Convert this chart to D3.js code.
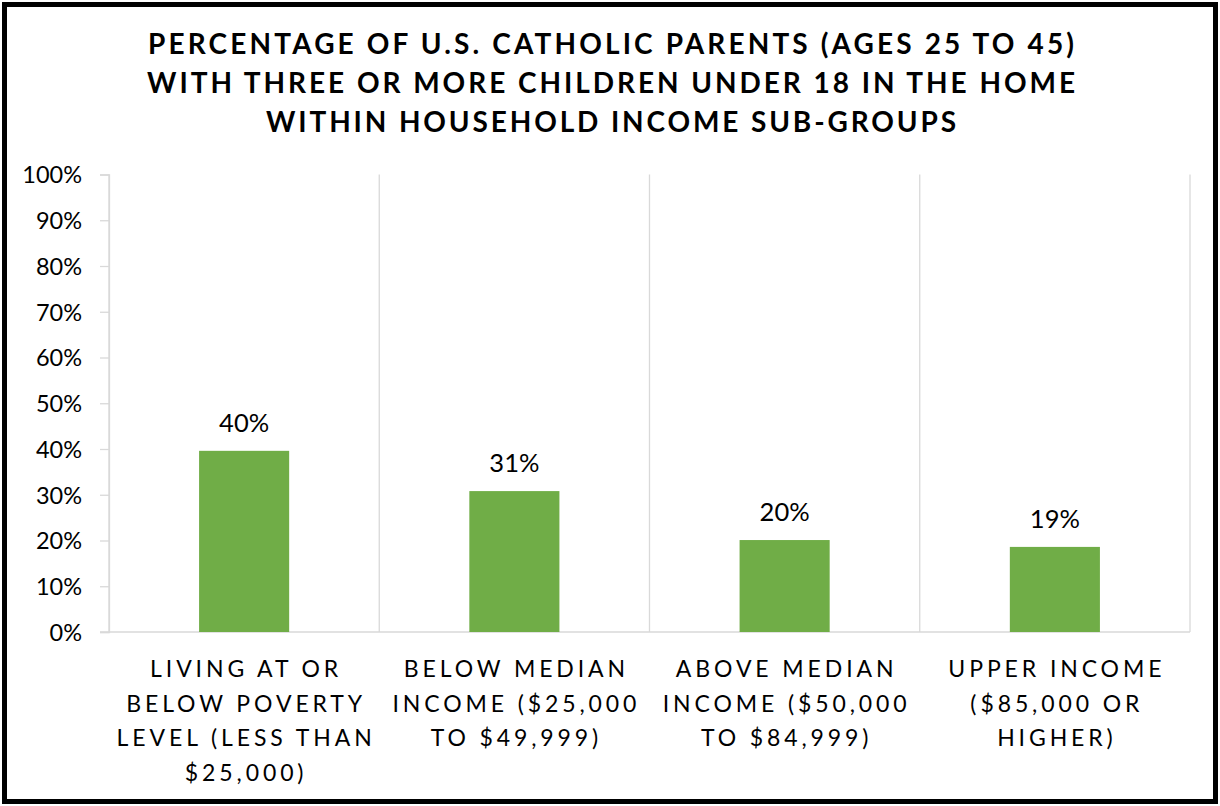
<!DOCTYPE html>
<html>
<head>
<meta charset="utf-8">
<script src="https://cdn.jsdelivr.net/npm/d3@7"></script>
<style>
  html, body { margin: 0; padding: 0; background: #fff; }
  svg { display: block; }
  text { font-family: Lato, "Open Sans", sans-serif; }
</style>
</head>
<body>
<svg id="chart" width="1220" height="806"></svg>
<script>
const titleLines = [
  "PERCENTAGE OF U.S. CATHOLIC PARENTS (AGES 25 TO 45)",
  "WITH THREE OR MORE CHILDREN UNDER 18 IN THE HOME",
  "WITHIN HOUSEHOLD INCOME SUB-GROUPS"
];
const categories = ["poverty", "belowMedian", "aboveMedian", "upper"];
const categoryLabels = [
  ["LIVING AT OR", "BELOW POVERTY", "LEVEL (LESS THAN", "$25,000)"],
  ["BELOW MEDIAN", "INCOME ($25,000", "TO $49,999)"],
  ["ABOVE MEDIAN", "INCOME ($50,000", "TO $84,999)"],
  ["UPPER INCOME", "($85,000 OR", "HIGHER)"]
];
const values = [0.396, 0.308, 0.201, 0.186];
const valueLabels = ["40%", "31%", "20%", "19%"];
const yTicks = [0, 0.1, 0.2, 0.3, 0.4, 0.5, 0.6, 0.7, 0.8, 0.9, 1.0];

const svg = d3.select("#chart");
const plot = { left: 109, right: 1190, top: 174.5, bottom: 632 };

// frame
svg.append("rect").attr("x", 4.5).attr("y", 4.5).attr("width", 1211).attr("height", 797)
  .attr("fill", "#fff").attr("stroke", "#000").attr("stroke-width", 5);

// title
const titleBaselines = [54, 93, 132];
const titleWidths = [926, 928, 690];
svg.append("g").selectAll("text").data(titleLines).join("text")
  .attr("x", 611).attr("y", (d, i) => titleBaselines[i])
  .attr("text-anchor", "middle")
  .attr("font-size", 28).attr("font-weight", 700).attr("fill", "#000")
  .attr("textLength", (d, i) => titleWidths[i]).attr("lengthAdjust", "spacing")
  .text(d => d);

const x = d3.scaleBand().domain(categories).range([plot.left, plot.right])
  .paddingInner(2/3).paddingOuter(1/3);
const y = d3.scaleLinear().domain([0, 1]).range([plot.bottom, plot.top]);

const gridColor = "#d9d9d9";

// vertical gridlines at category boundaries
const step = x.step();
const bounds = d3.range(categories.length + 1).map(i => plot.left + i * step);
svg.append("g").selectAll("line").data(bounds).join("line")
  .attr("x1", d => d).attr("x2", d => d)
  .attr("y1", plot.top).attr("y2", plot.bottom)
  .attr("stroke", gridColor).attr("stroke-width", 1.3);

// y axis
const yAxis = d3.axisLeft(y).tickValues(yTicks).tickFormat(d3.format(".0%")).tickSize(9).tickPadding(18);
const gy = svg.append("g").attr("transform", `translate(${plot.left},0)`).call(yAxis);
gy.select(".domain").attr("stroke", gridColor).attr("stroke-width", 1.3);
gy.selectAll(".tick line").attr("stroke", gridColor).attr("stroke-width", 1.3);
gy.selectAll(".tick text").attr("font-size", 23.5).attr("fill", "#000")
  .attr("font-family", "Lato, sans-serif").attr("dy", "0.36em");

// baseline
svg.append("line").attr("x1", plot.left - 9).attr("x2", plot.right)
  .attr("y1", plot.bottom).attr("y2", plot.bottom)
  .attr("stroke", gridColor).attr("stroke-width", 1.3);

// bars
svg.append("g").selectAll("rect").data(values).join("rect")
  .attr("x", (d, i) => x(categories[i]))
  .attr("y", d => y(d))
  .attr("width", x.bandwidth())
  .attr("height", d => y(0) - y(d))
  .attr("fill", "#70ad47");

// value labels
svg.append("g").selectAll("text").data(values).join("text")
  .attr("x", (d, i) => x(categories[i]) + x.bandwidth() / 2)
  .attr("y", d => y(d) - 19)
  .attr("text-anchor", "middle")
  .attr("font-size", 25.5).attr("fill", "#000")
  .text((d, i) => valueLabels[i]);

// category labels
const catG = svg.append("g").selectAll("text").data(categoryLabels).join("text")
  .attr("text-anchor", "middle")
  .attr("font-size", 23).attr("fill", "#000")
  .attr("letter-spacing", 3.9);
catG.each(function(lines, i) {
  const cx = x(categories[i]) + x.bandwidth() / 2;
  d3.select(this).selectAll("tspan").data(lines).join("tspan")
    .attr("x", cx + 2).attr("y", (d, j) => 677 + j * 34.5)
    .text(d => d);
});
</script>
</body>
</html>
